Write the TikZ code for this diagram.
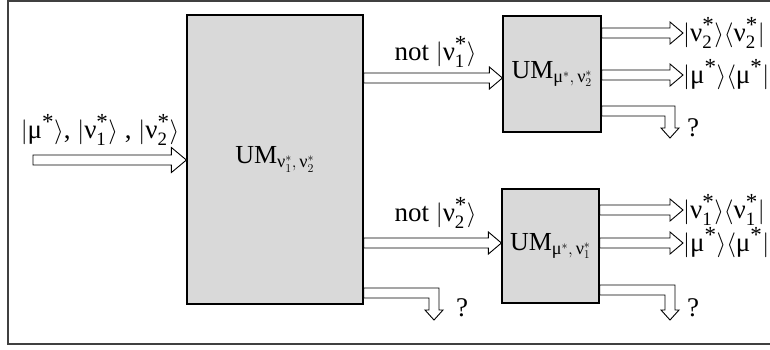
\documentclass[tikz,border=0pt]{standalone}
\usepackage{amsmath}
\usepackage{fontspec}
\setmainfont{Liberation Serif}
\usetikzlibrary{calc}
\newcommand{\hw}{5pt}
\newcommand{\hh}{11pt}
\newcommand{\hl}{13pt}
% horizontal hollow arrow: #1 start, #2 tip
\newcommand{\hollowH}[2]{%
  \draw[hol] let \p1=(#1), \p2=(#2) in
    (\x1,{\y1+\hw}) -- ({\x2-\hl},{\y1+\hw}) -- ({\x2-\hl},{\y1+\hh}) -- (\x2,\y1)
    -- ({\x2-\hl},{\y1-\hh}) -- ({\x2-\hl},{\y1-\hw}) -- (\x1,{\y1-\hw}) -- cycle;}
% bent hollow arrow: #1 start, #2 tip (right, then down)
\newcommand{\hollowB}[2]{%
  \draw[hol] let \p1=(#1), \p2=(#2) in
    (\x1,{\y1+\hw}) -- ({\x2+\hw},{\y1+\hw}) -- ({\x2+\hw},{\y2+10pt}) -- ({\x2+9pt},{\y2+10pt})
    -- (\x2,\y2) -- ({\x2-9pt},{\y2+10pt}) -- ({\x2-\hw},{\y2+10pt}) -- ({\x2-\hw},{\y1-\hw})
    -- (\x1,{\y1-\hw}) -- cycle;}
\newcommand{\st}{\text{\fontsize{23}{23}\selectfont *}}
\newcommand{\kt}[2]{\lvert\text{#1}^{\st}_{\text{#2}}\rangle}
\newcommand{\br}[2]{\langle\text{#1}^{\st}_{\text{#2}}\rvert}
\begin{document}
\begin{tikzpicture}[x=1pt,y=-1pt,
  box/.style={draw=black, line width=1.2pt, fill=gray!30, inner sep=0pt,
              font=\fontsize{26}{30}\selectfont},
  hol/.style={draw=black, line width=0.9pt, fill=white, line join=miter},
  lab/.style={inner sep=0pt, font=\fontsize{27}{31}\selectfont}]
\clip (0,0) rectangle (770,349);
\draw[black!75, line width=1.8pt] (8,1) rectangle (800,344);
% boxes
\node[box, minimum width=176pt, minimum height=289pt] (big) at (275,159.5)
  {$\text{UM}_{\text{ν}^{*}_{1},\,\text{ν}^{*}_{2}}$};
\node[box, minimum width=98pt, minimum height=116pt] (sm1) at (552,74)
  {$\text{UM}_{\text{μ}^{*},\,\text{ν}^{*}_{2}}$};
\node[box, minimum width=97pt, minimum height=114pt] (sm2) at (550.5,246)
  {$\text{UM}_{\text{μ}^{*},\,\text{ν}^{*}_{1}}$};
% input
\node[lab] (inlab) at (100,130) {$\lvert\text{μ}^{\st}\rangle$, $\kt{ν}{1}$ , $\kt{ν}{2}$};
\coordinate (inS) at (33,160);
\begingroup
\renewcommand{\hh}{12.5pt}\renewcommand{\hl}{15pt}
\hollowH{inS}{big.west |- inS}
\endgroup
% big -> small boxes
\node[lab] (not1) at (439,52) {not $\kt{ν}{1}\ $};
\node[lab] (not2) at (439,213) {not $\kt{ν}{2}\ $};
\hollowH{big.east |- 0,78}{sm1.west |- 0,78}
\hollowH{big.east |- 0,243}{sm2.west |- 0,243}
% outputs of sm1
\node[lab, anchor=west] (r1) at (683,33) {$\kt{ν}{2}\br{ν}{2}$};
\node[lab, anchor=west] (r2) at (683,75) {$\lvert\text{μ}^{\st}\rangle\langle\text{μ}^{\st}\rvert$};
\hollowH{sm1.east |- r1.west}{r1.west}
\hollowH{sm1.east |- r2.west}{r2.west}
\coordinate (t1) at (670,138);
\hollowB{sm1.east |- 0,111}{t1}
\node[lab] (q1) at (693,128) {?};
% outputs of sm2
\node[lab, anchor=west] (r3) at (683,210) {$\kt{ν}{1}\br{ν}{1}$};
\node[lab, anchor=west] (r4) at (683,243) {$\lvert\text{μ}^{\st}\rangle\langle\text{μ}^{\st}\rvert$};
\hollowH{sm2.east |- r3.west}{r3.west}
\hollowH{sm2.east |- r4.west}{r4.west}
\coordinate (t2) at (670,320);
\hollowB{sm2.east |- 0,290}{t2}
\node[lab] (q2) at (693,308) {?};
% big box third output
\coordinate (t3) at (434,320);
\hollowB{big.east |- 0,293}{t3}
\node[lab] (q3) at (462,308) {?};
\end{tikzpicture}
\end{document}
